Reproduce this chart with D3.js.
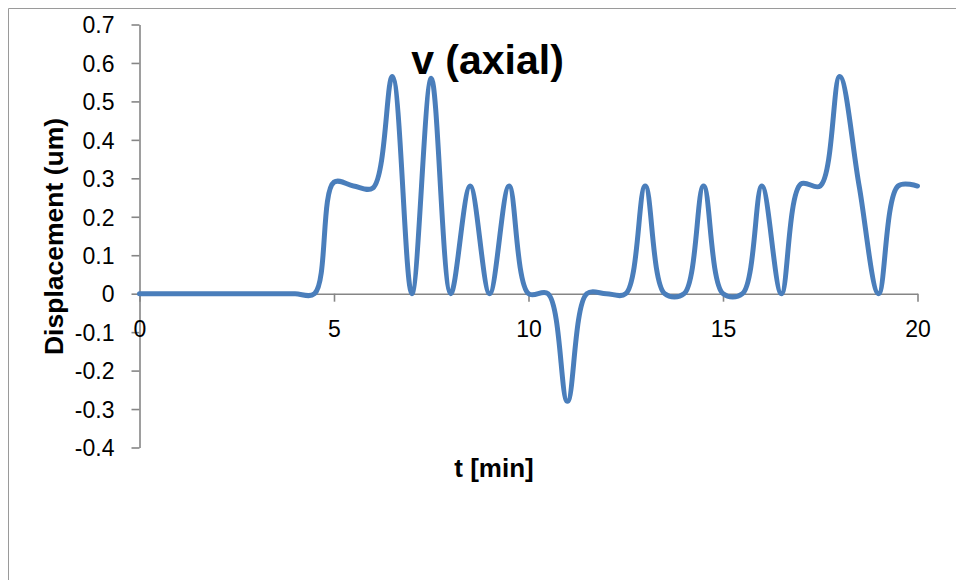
<!DOCTYPE html>
<html>
<head>
<meta charset="utf-8">
<script src="https://cdn.jsdelivr.net/npm/d3@7"></script>
<style>
  html, body { margin: 0; padding: 0; background: #ffffff; }
  svg { display: block; }
</style>
</head>
<body>
<svg id="chart" width="956" height="580"></svg>
<script>
// Axial displacement sampled every half minute
const times = [0, 0.5, 1, 1.5, 2, 2.5, 3, 3.5, 4, 4.5,
               5, 5.5, 6, 6.5, 7, 7.5, 8, 8.5, 9, 9.5,
               10, 10.5, 11, 11.5, 12, 12.5, 13, 13.5, 14, 14.5,
               15, 15.5, 16, 16.5, 17, 17.5, 18, 18.5, 19, 19.5, 20];
const displacement = [0, 0, 0, 0, 0, 0, 0, 0, 0, 0,
                      0.29, 0.28, 0.275, 0.565, 0, 0.56, 0, 0.28, 0, 0.28,
                      0, 0, -0.28, 0, 0, 0, 0.28, 0, 0, 0.28,
                      0, 0, 0.28, 0, 0.285, 0.28, 0.565, 0.28, 0, 0.28, 0.28];

const xTicks = [0, 5, 10, 15, 20];
const xTickLabels = ["0", "5", "10", "15", "20"];
const yTicks = [0.7, 0.6, 0.5, 0.4, 0.3, 0.2, 0.1, 0, -0.1, -0.2, -0.3, -0.4];
const yTickLabels = ["0.7", "0.6", "0.5", "0.4", "0.3", "0.2", "0.1", "0", "-0.1", "-0.2", "-0.3", "-0.4"];

const chartTitle = "v (axial)";
const xTitle = "t [min]";
const yTitle = "Displacement (um)";

const svg = d3.select("#chart");
const axisColor = "#868686";
const lineColor = "#4A7EBB";
const tickFont = "'Liberation Sans', Arial, sans-serif";

const x = d3.scaleLinear().domain([0, 20]).range([139.5, 917.5]);
const y = d3.scaleLinear().domain([-0.4, 0.7]).range([447.5, 24.5]);

// chart area frame
svg.append("path")
  .attr("d", "M8.5,580 L8.5,8.5 L956,8.5")
  .attr("fill", "none")
  .attr("stroke", "#9a9a9a")
  .attr("stroke-width", 1);

// y axis
const yAxis = d3.axisLeft(y)
  .tickValues(yTicks)
  .tickFormat((d, i) => yTickLabels[i])
  .tickSizeInner(8)
  .tickSizeOuter(0)
  .tickPadding(17);

const gy = svg.append("g")
  .attr("transform", `translate(${x(0)},0)`)
  .call(yAxis);
gy.select(".domain").attr("stroke", axisColor).attr("stroke-width", 1.6);
gy.selectAll(".tick line").attr("stroke", axisColor).attr("stroke-width", 1.6);
gy.selectAll(".tick text")
  .attr("fill", "#000")
  .attr("font-family", tickFont)
  .attr("font-size", 23)
  .attr("dy", "0.36em");

// x axis along the zero line
const xAxis = d3.axisBottom(x)
  .tickValues(xTicks)
  .tickFormat((d, i) => xTickLabels[i])
  .tickSizeInner(8)
  .tickSizeOuter(0)
  .tickPadding(19);

const gx = svg.append("g")
  .attr("transform", `translate(0,${y(0)})`)
  .call(xAxis);
gx.select(".domain").attr("stroke", axisColor).attr("stroke-width", 1.6);
gx.selectAll(".tick line").attr("stroke", axisColor).attr("stroke-width", 1.6);
gx.selectAll(".tick text")
  .attr("fill", "#000")
  .attr("font-family", tickFont)
  .attr("font-size", 23);

// smoothed series line
const line = d3.line()
  .x((d, i) => x(times[i]))
  .y(d => y(d))
  .curve(d3.curveCatmullRom.alpha(0.5));

svg.append("path")
  .datum(displacement)
  .attr("d", line)
  .attr("fill", "none")
  .attr("stroke", lineColor)
  .attr("stroke-width", 5)
  .attr("stroke-linejoin", "round")
  .attr("stroke-linecap", "round");

// titles
svg.append("text")
  .attr("x", 487.5)
  .attr("y", 74)
  .attr("text-anchor", "middle")
  .attr("font-family", tickFont)
  .attr("font-weight", "bold")
  .attr("font-size", 41)
  .attr("fill", "#000")
  .text(chartTitle);

svg.append("text")
  .attr("x", 494)
  .attr("y", 477)
  .attr("text-anchor", "middle")
  .attr("font-family", tickFont)
  .attr("font-weight", "bold")
  .attr("font-size", 26)
  .attr("fill", "#000")
  .text(xTitle);

svg.append("text")
  .attr("transform", "translate(63,236.5) rotate(-90)")
  .attr("text-anchor", "middle")
  .attr("font-family", tickFont)
  .attr("font-weight", "bold")
  .attr("font-size", 26.5)
  .attr("fill", "#000")
  .text(yTitle);
</script>
</body>
</html>
